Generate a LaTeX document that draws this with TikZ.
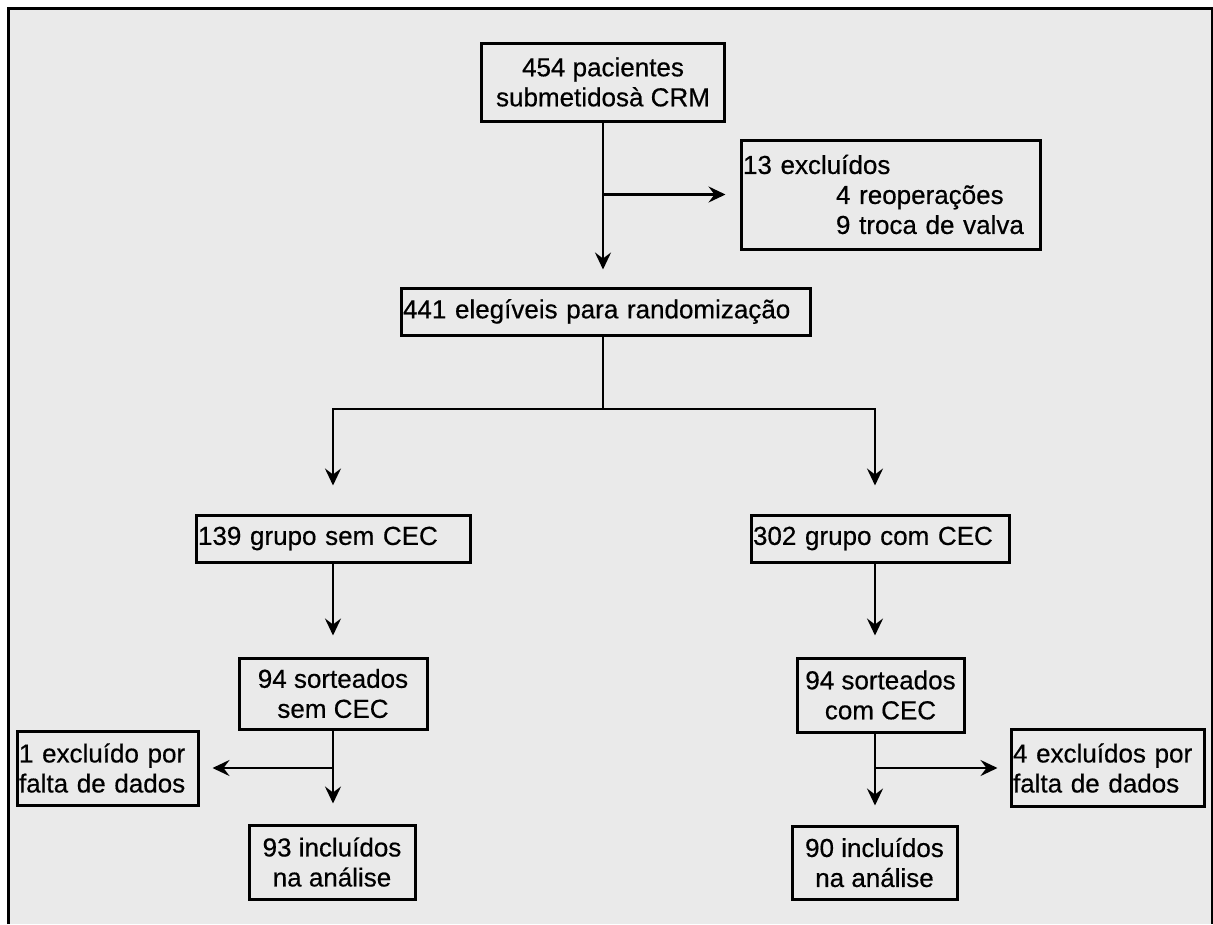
\documentclass[tikz,border=0pt]{standalone}
\usepackage{fontspec}
\setmainfont{Liberation Sans}
\newfontfamily\boxfont{Liberation Sans}[FakeBold=0.5]
\usepackage{xcolor}
\usepackage{tikz}
\usetikzlibrary{arrows.meta}
\usetikzlibrary{positioning}
\definecolor{panel}{HTML}{EAEAEA}
\tikzset{
    block/.style={
           rectangle,
           draw=black, line width=3pt,
           inner sep=2pt,
           align=center,
           },
    lblock/.style={
           block,
           align=left,
           },
    frame/.style={
           draw=black, line width=3pt,
           },
    line/.style={
           line width=2.4pt, line cap=rect,
           },
    arrow/.style={
           line width=2.4pt,
           -{Stealth[length=17pt,width=16pt,inset=6pt]},
           },
}

\begin{document}
\begin{tikzpicture}[x=1pt, y=-1pt, font=\boxfont\fontsize{26}{30}\selectfont]
	\useasboundingbox (0,0) rectangle (1213,924);
	\fill[panel] (8,8) rectangle (1212,924);
	\draw[frame] (8,924) -- (8,8) -- (1212,8) -- (1212,924);

	\node[block, minimum width=243pt, minimum height=78pt] (total) at (603,82) {
		454 pacientes\\submetidosà CRM
	};
	\node[lblock, text width=295pt, minimum height=109pt] (excl) at (890.5,194.5) {
		13 excluídos\\\hspace*{93pt}4 reoperações\\\hspace*{93pt}9 troca de valva
	};
	\node[lblock, text width=405pt, minimum height=47pt] (elig) at (605.5,311.5) {441 elegíveis para randomização};
	
	\node[lblock, text width=270pt, minimum height=47pt] (semgrp) at (333,538.5) {139 grupo sem CEC};
	\node[lblock, text width=254pt, minimum height=47pt] (comgrp) at (880,538.5) {302 grupo com CEC};
	
	\node[block, minimum width=188pt, minimum height=71pt] (semsort) at (333,693.5) {94 sorteados\\sem CEC};
	\node[block, minimum width=167pt, minimum height=74pt] (comsort) at (880.5,695) {94 sorteados\\com CEC};
	
	\node[lblock, text width=177pt, minimum height=74pt] (semexcl) at (107.5,768) {1 excluído por\\falta de dados};
	\node[lblock, text width=189pt, minimum height=77pt] (comexcl) at (1107.5,768) {4 excluídos por\\falta de dados};
	
	\node[block, minimum width=166pt, minimum height=74pt] (seminc) at (332,862) {93 incluídos\\na análise};
	\node[block, minimum width=165pt, minimum height=73pt] (cominc) at (874.5,862.5) {90 incluídos\\na análise};
	
	\coordinate (fork) at (603,409);
	\coordinate (forkL) at (333,409);
	\coordinate (forkR) at (875,409);
	
	\draw[arrow, shorten >=17pt] (total.south) -- (total.south |- elig.north);
	\draw[arrow, shorten >=14pt] (total.south |- excl.west) -- (excl.west);
	
	\draw[line] (total.south |- elig.south) -- (fork);
	\draw[line] (forkL) -- (forkR);
	\draw[arrow, shorten >=28pt] (forkL) -- (forkL |- semgrp.north);
	\draw[arrow, shorten >=28pt] (forkR) -- (forkR |- comgrp.north);
	
	\draw[arrow, shorten >=21pt] (semgrp.south) -- (semsort.north);
	\draw[arrow, shorten >=21pt] (forkR |- comgrp.south) -- (forkR |- comsort.north);
	
	\draw[arrow, shorten >=20pt] (semsort.south) -- (semsort.south |- seminc.north);
	\draw[arrow, shorten >=13pt] (semsort.south |- semexcl.east) -- (semexcl.east);
	\draw[arrow, shorten >=19pt] (forkR |- comsort.south) -- (forkR |- cominc.north);
	\draw[arrow, shorten >=12pt] (forkR |- comexcl.west) -- (comexcl.west);
\end{tikzpicture}
\end{document}
